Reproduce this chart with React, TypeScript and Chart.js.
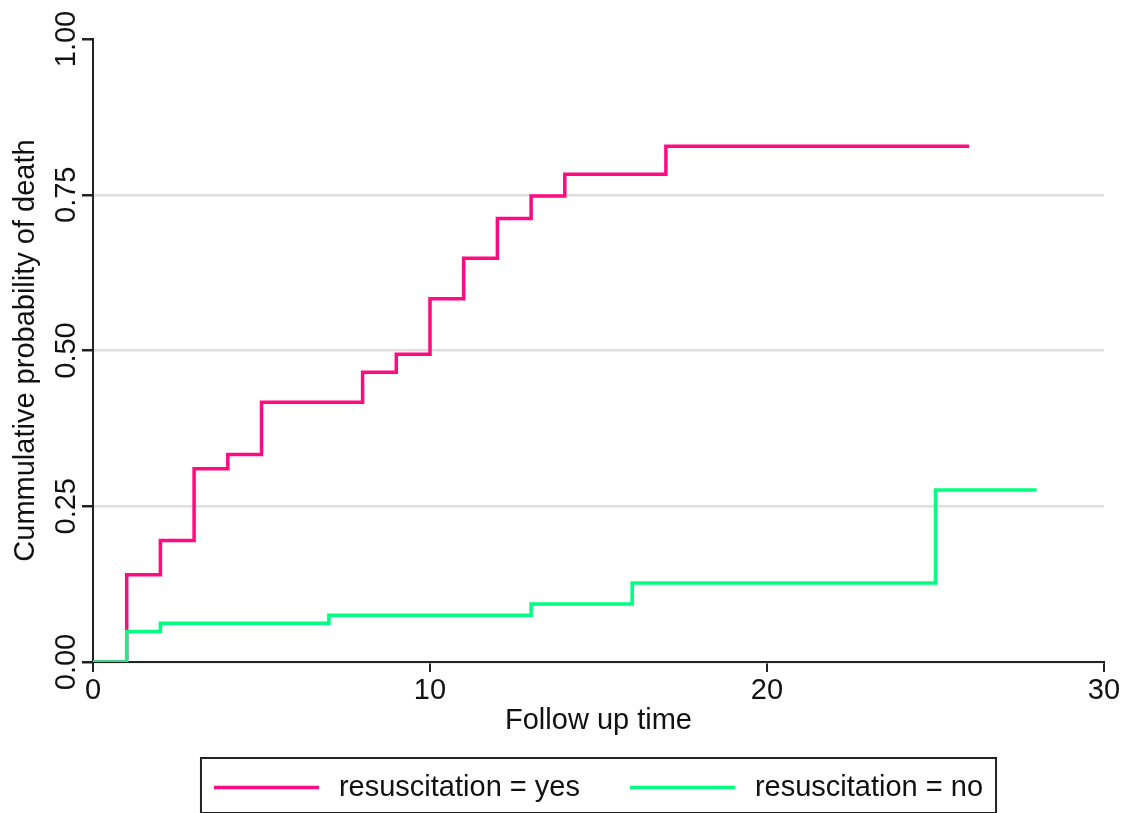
import React, { useEffect, useRef } from 'react';
import { Chart, registerables } from 'chart.js';

Chart.register(...registerables);

// ---- data ----
const yesTimes = [0, 1, 2, 3, 4, 5, 8, 9, 10, 11, 12, 13, 14, 17, 26];
const yesProb = [0, 0.14, 0.195, 0.31, 0.333, 0.417, 0.465, 0.494, 0.583, 0.648, 0.712, 0.748, 0.783, 0.828, 0.828];
const noTimes = [0, 1, 2, 7, 13, 16, 25, 28];
const noProb = [0, 0.049, 0.062, 0.075, 0.093, 0.127, 0.276, 0.276];
const xTickValues = [0, 10, 20, 30];
const yTickValues = [0, 0.25, 0.5, 0.75, 1];
const seriesLabels = ['resuscitation = yes', 'resuscitation = no'];
const seriesColors = ['#ff0a80', '#00ff80'];
const xTitle = 'Follow up time';
const yTitle = 'Cummulative probability of death';

const FONT = "'Liberation Sans', Arial, sans-serif";
const FS = 29;

const legendBox = {
  id: 'legendBox',
  afterDraw(chart: any) {
    const { ctx, chartArea } = chart;
    ctx.save();
    ctx.font = `${FS}px ${FONT}`;
    const items = chart.data.datasets.map((d: any) => ({
      label: d.label,
      color: d.borderColor,
      w: ctx.measureText(d.label).width,
    }));
    const lineLen = 105, gapText = 20, gapItem = 50, padX = 13;
    const inner = items.reduce((s: number, it: any, i: number) => s + lineLen + gapText + it.w + (i > 0 ? gapItem : 0), 0);
    const cx = (chartArea.left + chartArea.right) / 2;
    const boxW = inner + 2 * padX;
    const top = chartArea.bottom + 96;
    const h = 55;
    ctx.strokeStyle = '#222';
    ctx.lineWidth = 2;
    ctx.strokeRect(cx - boxW / 2, top, boxW, h);
    let x = cx - inner / 2;
    const cy = top + h / 2;
    items.forEach((it: any, i: number) => {
      if (i > 0) x += gapItem;
      ctx.strokeStyle = it.color;
      ctx.lineWidth = 3.5;
      ctx.beginPath();
      ctx.moveTo(x, cy + 2);
      ctx.lineTo(x + lineLen, cy + 2);
      ctx.stroke();
      x += lineLen + gapText;
      ctx.fillStyle = '#111';
      ctx.textAlign = 'left';
      ctx.textBaseline = 'middle';
      ctx.fillText(it.label, x, cy + 2);
      x += it.w;
    });
    ctx.restore();
  },
};

export default function App() {
  const ref = useRef<HTMLCanvasElement | null>(null);

  useEffect(() => {
    if (!ref.current) return;
    const chart = new Chart(ref.current, {
      type: 'line',
      data: {
        datasets: [
          {
            label: seriesLabels[0],
            data: yesTimes.map((t, i) => ({ x: t, y: yesProb[i] })),
            borderColor: seriesColors[0],
            backgroundColor: seriesColors[0],
            borderWidth: 3.5,
            stepped: 'before',
            pointRadius: 0,
            fill: false,
            order: 1,
          },
          {
            label: seriesLabels[1],
            data: noTimes.map((t, i) => ({ x: t, y: noProb[i] })),
            borderColor: seriesColors[1],
            backgroundColor: seriesColors[1],
            borderWidth: 3.5,
            stepped: 'before',
            pointRadius: 0,
            fill: false,
            order: 0,
          },
        ],
      },
      options: {
        animation: false,
        responsive: true,
        maintainAspectRatio: false,
        layout: { padding: { top: 39, right: 22, bottom: 75, left: 0 } },
        plugins: {
          legend: { display: false },
          tooltip: { enabled: false },
        },
        scales: {
          x: {
            type: 'linear',
            min: 0,
            max: 30,
            afterBuildTicks: (s: any) => { s.ticks = xTickValues.map((v) => ({ value: v })); },
            afterFit: (s: any) => { s.height = 76; },
            border: { display: true, color: '#222', width: 2 },
            grid: { drawOnChartArea: false, drawTicks: true, tickLength: 10, tickColor: '#222', lineWidth: 2 },
            ticks: { font: { family: FONT, size: FS }, color: '#111', padding: 2, maxRotation: 0 },
            title: { display: true, text: xTitle, font: { family: FONT, size: FS }, color: '#111', padding: { top: 0, bottom: 0 } },
          },
          y: {
            type: 'linear',
            min: 0,
            max: 1,
            afterBuildTicks: (s: any) => { s.ticks = yTickValues.map((v) => ({ value: v })); },
            afterFit: (s: any) => { s.width = 93; },
            border: { display: true, color: '#222', width: 2 },
            grid: {
              drawOnChartArea: true,
              drawTicks: true,
              tickLength: 11,
              tickColor: '#222',
              lineWidth: 2.5,
              color: (c: any) => (c.tick && c.tick.value === 1 ? 'rgba(0,0,0,0)' : '#dedede'),
            },
            ticks: {
              font: { family: FONT, size: FS },
              color: '#111',
              minRotation: 90,
              maxRotation: 90,
              crossAlign: 'center',
              padding: -13,
              callback: (v: any) => Number(v).toFixed(2),
            },
            title: { display: true, text: yTitle, font: { family: FONT, size: FS }, color: '#111', padding: { top: 9, bottom: 0 } },
          },
        },
      },
      plugins: [legendBox],
    } as any);
    return () => chart.destroy();
  }, []);

  return (
    <div style={{ position: 'fixed', left: 0, top: 0, width: 1126, height: 813, background: '#fff' }}>
      <canvas ref={ref} />
    </div>
  );
}
